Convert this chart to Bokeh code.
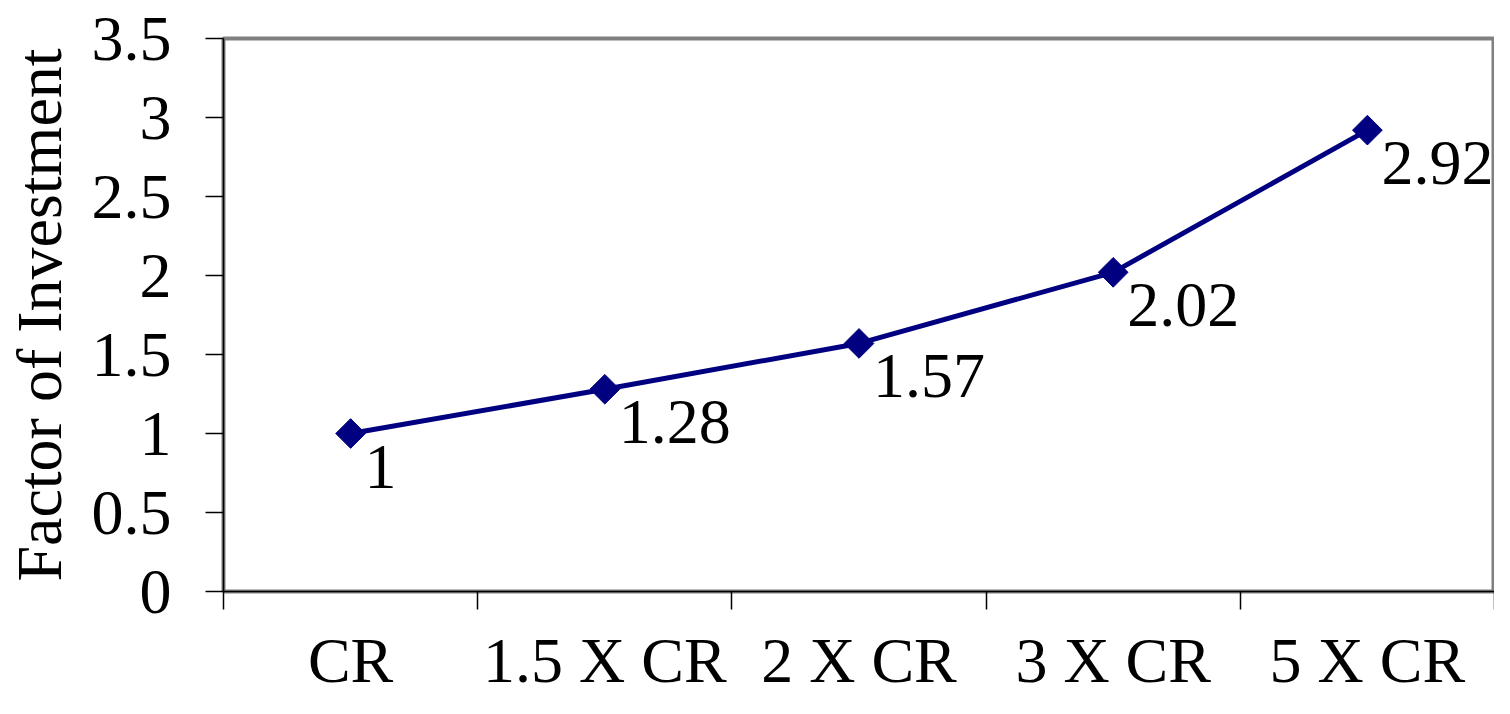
import math
from bokeh.plotting import figure
from bokeh.models import ColumnDataSource, FixedTicker, Range1d
from bokeh.embed import file_html
from bokeh.resources import INLINE
from bokeh.core.properties import value

categories = ["CR", "1.5 X CR", "2 X CR", "3 X CR", "5 X CR"]
factors = [1, 1.28, 1.57, 2.02, 2.92]
labels = ["1", "1.28", "1.57", "2.02", "2.92"]
y_ticks = [0, 0.5, 1, 1.5, 2, 2.5, 3, 3.5]

xs = list(range(1, len(categories) + 1))
src = ColumnDataSource(dict(x=xs, y=factors, lab=labels))

FONT = "Liberation Serif"
FS = "64px"

p = figure(width=1494, height=698, output_backend="svg", toolbar_location=None,
           x_range=Range1d(0.5, len(categories) + 0.5), y_range=Range1d(0, 3.5),
           min_border_left=222, min_border_right=0, min_border_top=38,
           min_border_bottom=0,
           background_fill_color="white", border_fill_color="white")
p.grid.visible = False
p.outline_line_color = "#808080"
p.outline_line_width = 4

p.line("x", "y", source=src, line_color="#000080", line_width=5)
p.scatter("x", "y", source=src, marker="square", angle=math.pi / 4, size=21,
          fill_color="#000080", line_color="#000080")
p.text("x", "y", text="lab", source=src, text_align="left", text_baseline="top",
       x_offset=14, y_offset=12, text_font=value(FONT), text_font_size=FS,
       text_color="black")

# x axis: labels at category centres, ticks at category boundaries
xa = p.xaxis[0]
xa.ticker = FixedTicker(ticks=xs, minor_ticks=[i + 0.5 for i in range(0, len(categories) + 1)])
xa.major_label_overrides = {x: c for x, c in zip(xs, categories)}
xa.major_tick_line_color = None
xa.minor_tick_in = 0
xa.minor_tick_out = 18
xa.minor_tick_line_color = "black"
xa.minor_tick_line_width = 1.5
xa.axis_line_color = "black"
xa.axis_line_width = 1.5
xa.major_label_standoff = 15
xa.major_label_text_font = FONT
xa.major_label_text_font_size = FS
xa.major_label_text_color = "black"

ya = p.yaxis[0]
ya.ticker = FixedTicker(ticks=y_ticks)
ya.major_label_overrides = {0: "0", 1: "1", 2: "2", 3: "3"}
ya.major_tick_in = 0
ya.major_tick_out = 18
ya.major_tick_line_color = "black"
ya.major_tick_line_width = 1.5
ya.minor_tick_line_color = None
ya.axis_line_color = "black"
ya.axis_line_width = 1.5
ya.major_label_standoff = 34
ya.major_label_text_font = FONT
ya.major_label_text_font_size = FS
ya.major_label_text_color = "black"
ya.axis_label = "Factor of Investment"
ya.axis_label_text_font = FONT
ya.axis_label_text_font_size = FS
ya.axis_label_text_font_style = "normal"
ya.axis_label_text_color = "black"
ya.axis_label_standoff = 14

open("out.html", "w").write(file_html(p, INLINE))
